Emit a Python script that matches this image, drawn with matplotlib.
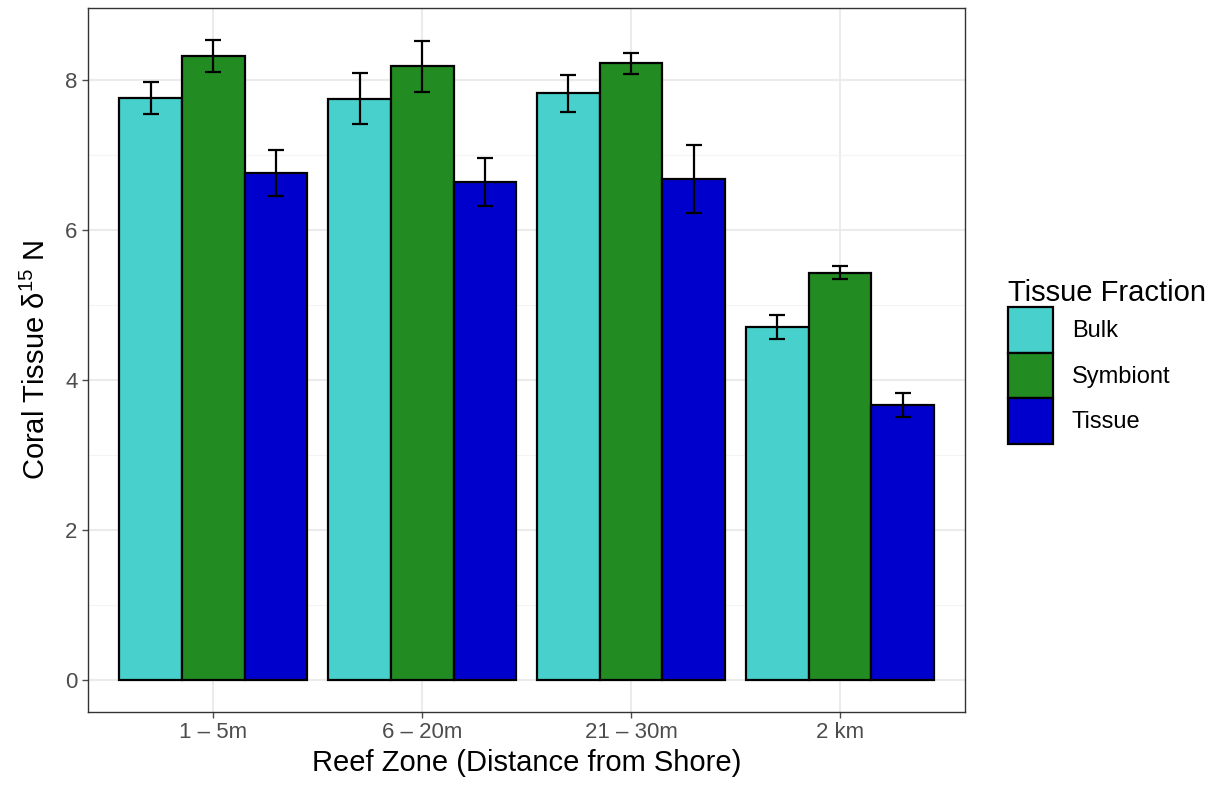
import numpy as np
import matplotlib
matplotlib.use("Agg")
import matplotlib.pyplot as plt
from matplotlib.patches import Patch

zones = ["1 – 5m", "6 – 20m", "21 – 30m", "2 km"]
fractions = ["Bulk", "Symbiont", "Tissue"]
colors = ["#48D1CC", "#228B22", "#0000CD"]

# mean and error half-width per fraction, one value per zone
bulk = [7.76, 7.75, 7.82, 4.71]
bulk_err = [0.21, 0.34, 0.25, 0.16]
symbiont = [8.32, 8.18, 8.22, 5.43]
symbiont_err = [0.21, 0.34, 0.14, 0.09]
tissue = [6.76, 6.64, 6.68, 3.66]
tissue_err = [0.31, 0.32, 0.45, 0.16]

means = [bulk, symbiont, tissue]
errs = [bulk_err, symbiont_err, tissue_err]

plt.rcParams['font.family'] = ['Liberation Sans', 'DejaVu Sans']

fig = plt.figure(figsize=(12.25, 7.89), dpi=100)
ax = fig.add_axes([0.0718, 0.0976, 0.7163, 0.8923])

x = np.arange(1, len(zones) + 1)
w = 0.3
for i, (m, e, c) in enumerate(zip(means, errs, colors)):
    pos = x + (i - 1) * w
    ax.bar(pos, m, width=w, color=c, edgecolor="black", linewidth=1.6, zorder=3)
    ax.errorbar(pos, m, yerr=e, fmt="none", ecolor="black", elinewidth=1.6,
                capsize=5.5, capthick=1.6, zorder=4)

ax.set_xlim(0.4, 4.6)
ax.set_ylim(-0.43, 8.96)
ax.set_xticks(x)
ax.set_xticklabels(zones)
ax.set_yticks([0, 2, 4, 6, 8])
ax.set_yticks([1, 3, 5, 7], minor=True)
ax.grid(which="major", color="#EBEBEB", linewidth=1.5, zorder=0)
ax.grid(which="minor", axis="y", color="#F4F4F4", linewidth=0.8, zorder=0)
ax.tick_params(axis="both", which="major", labelsize=16, colors="#4D4D4D",
               length=4, width=1.0, labelcolor="#4D4D4D")
ax.tick_params(axis="y", which="minor", length=0)
for s in ax.spines.values():
    s.set_color("#333333")
    s.set_linewidth(1.0)

ax.set_xlabel("Reef Zone (Distance from Shore)", fontsize=21, labelpad=4)
ax.set_ylabel(r"Coral Tissue $\mathregular{\delta^{15}}$ N", fontsize=21, labelpad=10)

handles = [Patch(facecolor=c, edgecolor="black", linewidth=1.6, label=f)
           for f, c in zip(fractions, colors)]
leg = fig.legend(handles=handles, title="Tissue Fraction", loc="center left",
                 bbox_to_anchor=(0.823, 0.542), frameon=False, fontsize=17,
                 title_fontsize=21, handlelength=1.9, handleheight=2.6,
                 labelspacing=0.0, handletextpad=0.8, borderaxespad=0,
                 borderpad=0)
leg._legend_box.align = "left"

fig.savefig("out.png", dpi=100)
